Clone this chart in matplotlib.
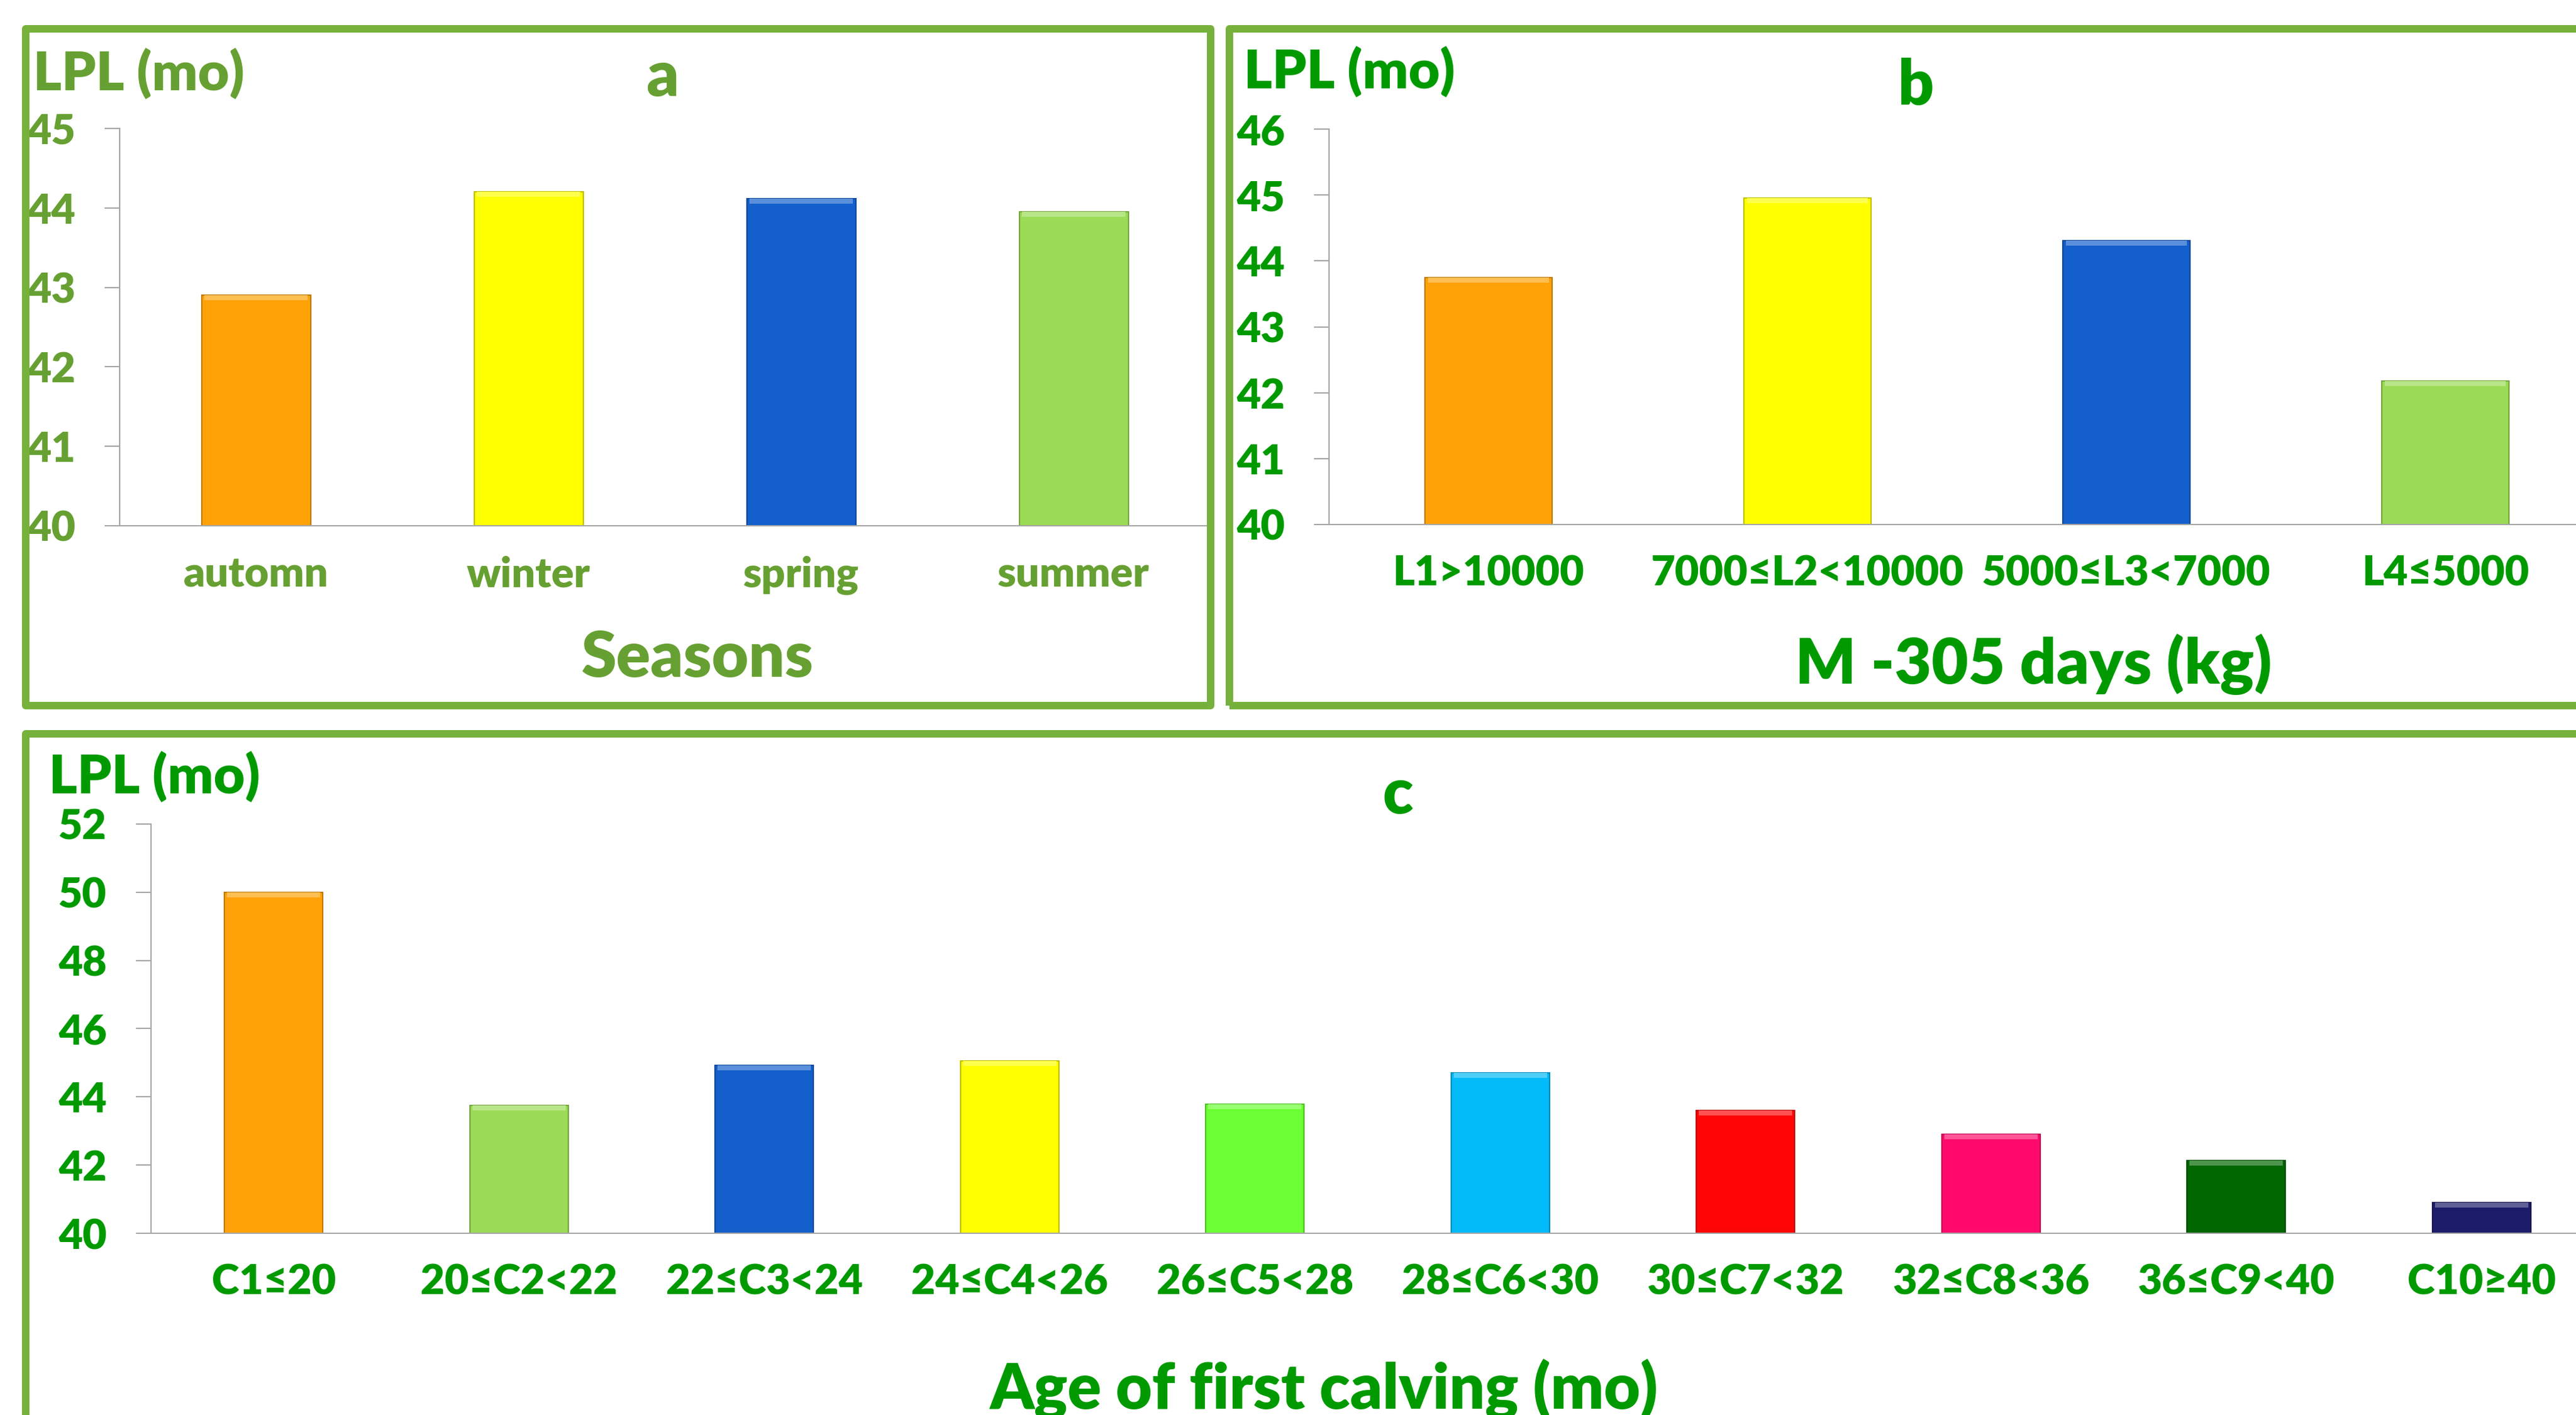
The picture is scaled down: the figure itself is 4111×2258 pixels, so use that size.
import matplotlib
matplotlib.use("Agg")
import matplotlib.pyplot as plt
import matplotlib.colors as mcolors
from matplotlib.patches import Rectangle

# --- data ---
seasons = ["automn", "winter", "spring", "summer"]
lpl_seasons = [42.9, 44.2, 44.12, 43.95]

milk_classes = ["L1>10000", "7000≤L2<10000", "5000≤L3<7000", "L4≤5000"]
lpl_milk = [43.75, 44.95, 44.31, 42.18]

calving_classes = ["C1≤20", "20≤C2<22", "22≤C3<24", "24≤C4<26", "26≤C5<28",
                   "28≤C6<30", "30≤C7<32", "32≤C8<36", "36≤C9<40", "C10≥40"]
lpl_calving = [50.0, 43.74, 44.92, 45.05, 43.78, 44.70, 43.6, 42.9, 42.13, 40.9]

orange, yellow, blue, lgreen = "#FFA208", "#FFFF00", "#135FCB", "#9BDB55"
colors_4 = [orange, yellow, blue, lgreen]
colors_10 = [orange, lgreen, blue, yellow, "#6CFF33", "#03BBF9",
             "#FF0606", "#FF0A6C", "#006600", "#1C1C6A"]

olive = "#67A032"
green = "#009A00"
frame_col = "#76B13B"

plt.rcParams["font.family"] = ["Lato", "DejaVu Sans"]
plt.rcParams["font.weight"] = 800

W, H = 4111, 2258
fig = plt.figure(figsize=(W / 100, H / 100), dpi=100)


def ftext(x, y, s, **kw):
    fig.text(x / W, 1 - y / H, s, **kw)


def frame(x0, y0, x1, y1):
    r = Rectangle((x0 / W, 1 - y1 / H), (x1 - x0) / W, (y1 - y0) / H,
                  transform=fig.transFigure, fill=False, lw=8.6,
                  ec=frame_col, joinstyle="round", clip_on=False, zorder=5)
    fig.add_artist(r)


def shade(c, f):
    rgb = mcolors.to_rgb(c)
    return tuple(1 - (1 - v) * f for v in rgb)


def darker(c, f=0.75):
    return tuple(v * f for v in mcolors.to_rgb(c))


def panel(left, right, top, bottom, cats, vals, cols, ymin, ymax, step, tcol):
    ax = fig.add_axes([left / W, 1 - bottom / H, (right - left) / W, (bottom - top) / H])
    x = list(range(len(cats)))
    ax.bar(x, vals, width=0.4, color=cols, edgecolor=[darker(c) for c in cols],
           linewidth=1.5, zorder=2)
    # light bevel along the top of each bar
    hl = (ymax - ymin) * 8 / (bottom - top)
    ax.bar(x, [hl] * len(vals), bottom=[v - hl for v in vals], width=0.38,
           color=[shade(c, 0.7) for c in cols], linewidth=0, zorder=3)
    ax.set_xlim(-0.5, len(cats) - 0.5)
    ax.set_ylim(ymin, ymax)
    ax.set_yticks(list(range(ymin, ymax + 1, step)))
    ax.set_xticks(x)
    ax.set_xticklabels(cats)
    for s in ["top", "right"]:
        ax.spines[s].set_visible(False)
    for s in ["left", "bottom"]:
        ax.spines[s].set_color("#A6A6A6")
        ax.spines[s].set_linewidth(1.5)
    ax.tick_params(axis="y", direction="out", length=17, width=1.5, color="#A6A6A6",
                   pad=34, labelsize=48, labelcolor=tcol)
    ax.tick_params(axis="x", length=0, pad=34, labelsize=48, labelcolor=tcol)
    ax.patch.set_alpha(0)
    return ax


# panel a
panel(191, 1931, 205, 839, seasons, lpl_seasons, colors_4, 40, 45, 1, olive)
ftext(53, 145, "LPL (mo)", fontsize=62, color=olive, ha="left", va="baseline")
ftext(1057, 153, "a", fontsize=72, color=olive, ha="center", va="baseline")
ftext(1113, 1080, "Seasons", fontsize=73, color=olive, ha="center", va="baseline")
frame(41, 46, 1931.5, 1126)

# panel b
panel(2121, 4157, 206, 837, milk_classes, lpl_milk, colors_4, 40, 46, 1, green)
ftext(1985, 142, "LPL (mo)", fontsize=62, color=green, ha="left", va="baseline")
ftext(3057, 167, "b", fontsize=72, color=green, ha="center", va="baseline")
ftext(3245, 1091, "M -305 days (kg)", fontsize=73, color=green, ha="center", va="baseline")
frame(1961.5, 46, 4300, 1126)

# panel c
panel(241, 4156, 1315, 1968, calving_classes, lpl_calving, colors_10, 40, 52, 2, green)
ftext(78, 1267, "LPL (mo)", fontsize=62, color=green, ha="left", va="baseline")
ftext(2231, 1298, "c", fontsize=72, color=green, ha="center", va="baseline")
ftext(2113, 2248, "Age of first calving (mo)", fontsize=72, color=green, ha="center", va="baseline")
frame(41, 1171, 4300, 2400)

fig.savefig("out.png", dpi=100)
